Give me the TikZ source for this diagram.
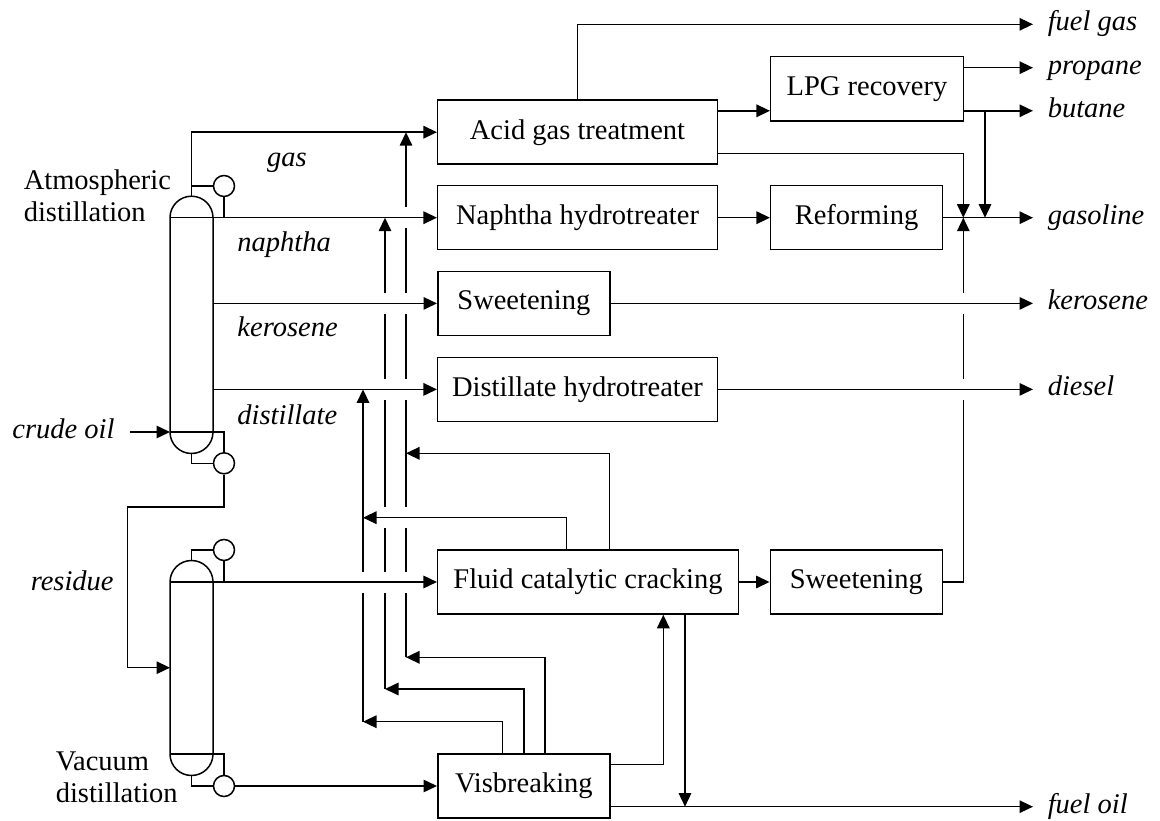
\documentclass[tikz,border=0pt]{standalone}
\usepackage{fontspec}
\setmainfont{Liberation Serif}
\usetikzlibrary{arrows.meta}
\begin{document}
\begin{tikzpicture}[x=1pt,y=-1pt,
  line width=1.5pt,
  every node/.style={font=\fontsize{28.5}{32.5}\selectfont},
  box/.style={draw, line width=1.5pt, minimum height=64pt, inner sep=0pt},
  lbl/.style={font=\fontsize{28.5}{32.5}\selectfont\itshape, text height=19pt, text depth=6pt, inner sep=0pt},
  outlbl/.style={lbl, anchor=west, inner xsep=14pt},
  drum/.style={circle, draw, line width=1.5pt, minimum size=21pt, inner sep=0pt},
  arr/.style={-{Triangle[length=13.5pt,width=12.5pt]}}
]
\useasboundingbox (0,0) rectangle (1160,821);

% ---------- process boxes ----------
\node[box, minimum width=279.6pt] (acid) at (577.5,132.2) {Acid gas treatment};
\node[box, minimum width=279.6pt] (naph) at (577.5,217.7) {Naphtha hydrotreater};
\node[box, minimum width=172.3pt] (sw1) at (523.9,303.4) {Sweetening};
\node[box, minimum width=279.6pt] (dist) at (577.5,389.4) {Distillate hydrotreater};
\node[box, minimum width=300.6pt] (fcc) at (588,582) {Fluid catalytic cracking};
\node[box, minimum width=172.3pt] (visb) at (523.9,786) {Visbreaking};
\node[box, minimum width=192.6pt, minimum height=64.3pt] (lpg) at (867,88.8) {LPG recovery};
\node[box, minimum width=171.6pt] (ref) at (856.5,217.7) {Reforming};
\node[box, minimum width=172pt] (sw2) at (856.3,582) {Sweetening};

% ---------- product labels ----------
\node[outlbl] (fuelgas) at (1033,24.3) {fuel gas};
\node[outlbl] (propane) at (1033,67.7) {propane};
\node[outlbl] (butane) at (1033,110.8) {butane};
\node[outlbl] (gasoline) at (1033,217.7) {gasoline};
\node[outlbl] (kero) at (1033,303.4) {kerosene};
\node[outlbl] (diesel) at (1033,389.4) {diesel};
\node[outlbl] (fueloil) at (1033,806.7) {fuel oil};

% ---------- stream labels ----------
\node[lbl] (lgas) at (287,159.7) {gas};
\node[lbl, anchor=west] (lnaph) at (236.7,245.5) {naphtha};
\node[lbl, anchor=west] (lker) at (236.7,330.3) {kerosene};
\node[lbl, anchor=west] (ldist) at (236.7,417.5) {distillate};
\node[lbl, anchor=west] (crude) at (11.7,432) {crude oil};
\node[lbl, anchor=west] (resid) at (30,583.7) {residue};
\node[align=left, anchor=west, inner sep=0pt] (atm) at (23,196) {Atmospheric\\distillation};
\node[align=left, anchor=west, inner sep=0pt] (vac) at (55,777.5) {Vacuum\\distillation};

% ---------- atmospheric column ----------
\draw (170,432) -- (170,217.7) arc[start angle=180,end angle=360,radius=21.5]
      -- (213,432) arc[start angle=0,end angle=180,radius=21.5];
\node[drum] (c1) at (224,186) {};
\node[drum] (c2) at (224,463.3) {};
\draw (191.5,186) -- (c1.west);
\draw (c1.south) -- (224,217.7);
\draw[arr] (191.5,196.2) |- (acid.west);
\draw[arr] (170,217.7) -- (naph.west);
\draw[arr] (213,303.4) -- (sw1.west);
\draw[arr] (213,389.4) -- (dist.west);
\draw[arr] ([xshift=14.5pt]crude.east) -- (170,432);
\draw (170,432) -- (224,432) -- (c2.north);
\draw (191.5,453.5) |- (c2.west);
\draw[arr] (c2.south) -- (224,507) -- (127.7,507) -- (127.7,667.7) -- (170,667.7);

% ---------- vacuum column ----------
\draw (170,754) -- (170,582) arc[start angle=180,end angle=360,radius=21.5]
      -- (213,754) arc[start angle=0,end angle=180,radius=21.5];
\node[drum] (c3) at (224,550) {};
\node[drum] (c4) at (224,786) {};
\draw (191.5,560.5) |- (c3.west);
\draw (c3.south) -- (224,582);
\draw[arr] (170,582) -- (fcc.west);
\draw (170,754) -- (224,754) -- (c4.north);
\draw (191.5,775.5) |- (c4.west);
\draw[arr] (c4.east) -- (visb.west);

% ---------- recycle buses (with crossing gaps) ----------
% bus at x=406 -> gas line
\draw (406,657.3) -- (406,592.5);
\draw (406,571.5) -- (406,528.2);
\draw (406,507.2) -- (406,399.9);
\draw (406,378.9) -- (406,313.9);
\draw (406,292.9) -- (406,228.2);
\draw[arr] (406,207.2) -- (406,132.2);
% bus at x=385 -> naphtha line
\draw (385,689) -- (385,592.5);
\draw (385,571.5) -- (385,528.2);
\draw (385,507.2) -- (385,399.9);
\draw (385,378.9) -- (385,313.9);
\draw[arr] (385,292.9) -- (385,217.7);
% bus at x=363 -> distillate line
\draw (363,721.7) -- (363,592.5);
\draw[arr] (363,571.5) -- (363,389.4);

\coordinate (xf1) at (566.7,0);
\coordinate (xf2) at (609.3,0);
\coordinate (xv1) at (502.7,0);
\coordinate (xv2) at (524,0);
\coordinate (xv3) at (545,0);
\coordinate (xr) at (663.3,0);
\coordinate (xd) at (685,0);
\coordinate (xg) at (963.3,0);
\coordinate (xb) at (985,0);
\coordinate (ya2) at (0,153.3);
\coordinate (yv1) at (0,764.3);

\draw[arr] (xf1 |- fcc.north) |- (363,517.7);
\draw[arr] (xf2 |- fcc.north) |- (406,453.3);
\draw[arr] (xv1 |- visb.north) |- (363,721.7);
\draw[arr] (xv2 |- visb.north) |- (385,689);
\draw[arr] (xv3 |- visb.north) |- (406,657.3);

% ---------- downstream ----------
\draw[arr] (visb.east |- yv1) -| (xr |- fcc.south);
\draw[arr] (xd |- fcc.south) -- (xd |- fueloil);
\draw[arr] (visb.east |- fueloil) -- (fueloil.west);
\draw[arr] (fcc.east) -- (sw2.west);
\draw (sw2.east) -| (963.3,399.9);
\draw (963.3,378.9) -- (963.3,313.9);
\draw[arr] (963.3,292.9) -- (xg |- gasoline);

\draw[arr] (acid.north) |- (fuelgas.west);
\draw[arr] (acid.east |- butane) -- (lpg.west |- butane);
\draw[arr] (acid.east |- ya2) -| (xg |- gasoline);
\draw[arr] (lpg.east |- propane) -- (propane.west);
\draw[arr] (lpg.east |- butane) -- (butane.west);
\draw[arr] (xb |- butane) -- (xb |- gasoline);
\draw[arr] (naph.east) -- (ref.west);
\draw[arr] (ref.east) -- (gasoline.west);
\draw[arr] (sw1.east) -- (kero.west);
\draw[arr] (dist.east) -- (diesel.west);
\end{tikzpicture}
\end{document}
